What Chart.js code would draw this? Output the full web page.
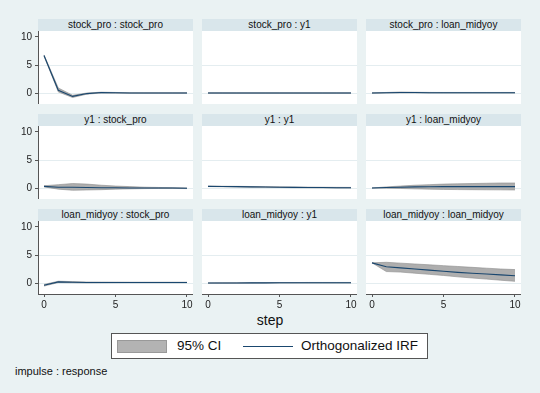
<!DOCTYPE html>
<html lang="en">
<head>
<meta charset="UTF-8">
<title>Orthogonalized IRF</title>
<script src="https://cdn.jsdelivr.net/npm/chart.js"></script>
<style>
    body { margin: 0; background: #eaf2f3; font-family: "Liberation Sans", Arial, sans-serif; }
    #fig { position: relative; width: 540px; height: 393px; overflow: hidden; background: #eaf2f3; }
    .cap {
        position: absolute; height: 12px; line-height: 12px; background: #d9e6eb;
        font-size: 10px; color: #111; text-align: center; white-space: nowrap;
    }
    .plot { position: absolute; }
    .white { position: absolute; background: #fff; }
    #step { position: absolute; left: 0; width: 540px; top: 312px; text-align: center; font-size: 14px; color: #111; }
    #legend {
        position: absolute; left: 111px; top: 333px; width: 315px; height: 24px;
        background: #fff; border: 1px solid #555;
    }
    #legend .sw { position: absolute; left: 5px; top: 6px; width: 50px; height: 13px; background: #b3b3b3; border: 1px solid #999; box-sizing: border-box; }
    #legend .ln { position: absolute; left: 131px; top: 12px; width: 50px; height: 1px; background: #1a476f; }
    #legend span { position: absolute; top: 4px; font-size: 13.5px; color: #111; }
    #note { position: absolute; left: 15px; top: 365px; font-size: 11px; color: #111; }
</style>
</head>
<body>
<div id="fig">
    <div id="step">step</div>
    <div id="legend">
        <div class="sw"></div><span style="left:65px">95% CI</span>
        <div class="ln"></div><span style="left:189px">Orthogonalized IRF</span>
    </div>
    <div id="note">impulse : response</div>
</div>

<script>
    // horizon and axis ticks
    const steps = [0, 1, 2, 3, 4, 5, 6, 7, 8, 9, 10];
    const xTicks = [0, 5, 10];
    const yTicks = [0, 5, 10];

    // impulse : response panels
    const irfSpSp = [6.7, 0.5, -0.6, -0.1, 0.1, 0.05, 0.0, 0.0, 0.0, 0.0, 0.0];
    const loSpSp  = [6.6, 0.2, -0.8, -0.2, 0.0, -0.02, -0.03, -0.03, -0.03, -0.03, -0.03];
    const hiSpSp  = [6.8, 0.9, -0.4, 0.0, 0.15, 0.1, 0.05, 0.04, 0.04, 0.04, 0.04];

    const irfSpY1 = [0.0, 0.0, 0.0, 0.0, 0.0, 0.0, 0.0, 0.0, 0.0, 0.0, 0.0];
    const loSpY1  = [-0.03, -0.04, -0.04, -0.04, -0.04, -0.04, -0.04, -0.04, -0.04, -0.04, -0.04];
    const hiSpY1  = [0.03, 0.04, 0.04, 0.04, 0.04, 0.04, 0.04, 0.04, 0.04, 0.04, 0.04];

    const irfSpLm = [0.0, 0.05, 0.1, 0.08, 0.06, 0.05, 0.05, 0.05, 0.05, 0.05, 0.05];
    const loSpLm  = [-0.03, 0.0, 0.02, 0.02, 0.01, 0.0, 0.0, 0.0, 0.0, 0.0, 0.0];
    const hiSpLm  = [0.03, 0.1, 0.18, 0.14, 0.11, 0.1, 0.1, 0.1, 0.1, 0.1, 0.1];

    const irfY1Sp = [0.3, 0.15, 0.15, 0.1, 0.05, 0.05, 0.0, 0.0, 0.0, 0.0, -0.05];
    const loY1Sp  = [0.2, -0.2, -0.4, -0.35, -0.3, -0.2, -0.15, -0.1, -0.08, -0.08, -0.1];
    const hiY1Sp  = [0.4, 0.6, 0.8, 0.7, 0.5, 0.35, 0.25, 0.15, 0.1, 0.06, 0.02];

    const irfY1Y1 = [0.3, 0.27, 0.24, 0.21, 0.18, 0.15, 0.12, 0.1, 0.08, 0.06, 0.05];
    const loY1Y1  = [0.26, 0.22, 0.18, 0.15, 0.12, 0.09, 0.06, 0.04, 0.02, 0.0, -0.01];
    const hiY1Y1  = [0.34, 0.32, 0.3, 0.27, 0.24, 0.21, 0.18, 0.16, 0.14, 0.12, 0.11];

    const irfY1Lm = [0.0, 0.1, 0.15, 0.2, 0.22, 0.24, 0.25, 0.25, 0.25, 0.25, 0.25];
    const loY1Lm  = [0.0, -0.02, -0.08, -0.15, -0.2, -0.25, -0.28, -0.3, -0.32, -0.33, -0.35];
    const hiY1Lm  = [0.0, 0.2, 0.35, 0.5, 0.6, 0.7, 0.75, 0.8, 0.85, 0.9, 0.9];

    const irfLmSp = [-0.4, 0.2, 0.15, 0.1, 0.1, 0.1, 0.1, 0.1, 0.1, 0.1, 0.1];
    const loLmSp  = [-0.55, 0.08, 0.05, 0.02, 0.03, 0.04, 0.05, 0.05, 0.05, 0.05, 0.05];
    const hiLmSp  = [-0.25, 0.32, 0.25, 0.18, 0.17, 0.16, 0.15, 0.15, 0.15, 0.15, 0.15];

    const irfLmY1 = [0.0, 0.0, 0.01, 0.02, 0.03, 0.04, 0.04, 0.05, 0.05, 0.05, 0.05];
    const loLmY1  = [-0.02, -0.03, -0.02, -0.01, 0.0, 0.0, 0.0, 0.0, 0.0, 0.0, 0.0];
    const hiLmY1  = [0.02, 0.03, 0.04, 0.05, 0.06, 0.08, 0.08, 0.1, 0.1, 0.1, 0.1];

    const irfLmLm = [3.6, 2.9, 2.7, 2.5, 2.3, 2.1, 1.9, 1.75, 1.6, 1.45, 1.3];
    const loLmLm  = [3.6, 2.05, 1.95, 1.75, 1.55, 1.35, 1.1, 0.9, 0.7, 0.5, 0.3];
    const hiLmLm  = [3.6, 3.7, 3.55, 3.4, 3.25, 3.1, 2.95, 2.8, 2.65, 2.5, 2.4];

    const panels = [
        ['stock_pro : stock_pro', irfSpSp, loSpSp, hiSpSp],
        ['stock_pro : y1', irfSpY1, loSpY1, hiSpY1],
        ['stock_pro : loan_midyoy', irfSpLm, loSpLm, hiSpLm],
        ['y1 : stock_pro', irfY1Sp, loY1Sp, hiY1Sp],
        ['y1 : y1', irfY1Y1, loY1Y1, hiY1Y1],
        ['y1 : loan_midyoy', irfY1Lm, loY1Lm, hiY1Lm],
        ['loan_midyoy : stock_pro', irfLmSp, loLmSp, hiLmSp],
        ['loan_midyoy : y1', irfLmY1, loLmY1, hiLmY1],
        ['loan_midyoy : loan_midyoy', irfLmLm, loLmLm, hiLmLm]
    ];

    const colX = [38, 202, 366];
    const rowY = [19, 114, 209];
    const PW = 155, CAP = 12, PH = 73;
    const fig = document.getElementById('fig');

    const pts = arr => steps.map((s, i) => ({ x: s, y: arr[i] }));

    // keep the plot area exactly where the panel is: no label overflow padding
    function noPad(s) {
        s.paddingTop = 0; s.paddingBottom = 0;
        s.paddingLeft = 0; s.paddingRight = 0;
    }

    panels.forEach((p, k) => {
        const col = k % 3, row = Math.floor(k / 3);
        const left = colX[col], top = rowY[row];

        const cap = document.createElement('div');
        cap.className = 'cap';
        cap.style.left = left + 'px';
        cap.style.top = top + 'px';
        cap.style.width = PW + 'px';
        cap.textContent = p[0];
        fig.appendChild(cap);

        const bg = document.createElement('div');
        bg.className = 'white';
        bg.style.left = left + 'px';
        bg.style.top = (top + CAP) + 'px';
        bg.style.width = PW + 'px';
        bg.style.height = PH + 'px';
        fig.appendChild(bg);

        const yw = col === 0 ? 20 : 0;
        const xh = row === 2 ? 18 : 0;
        const cv = document.createElement('canvas');
        cv.className = 'plot';
        cv.width = PW + yw;
        cv.height = PH + xh;
        cv.style.left = (left - yw) + 'px';
        cv.style.top = (top + CAP) + 'px';
        fig.appendChild(cv);

        new Chart(cv, {
            type: 'line',
            data: {
                datasets: [
                    // IRF first so it is drawn on top of the band
                    { data: pts(p[1]), borderColor: '#1a476f', borderWidth: 1.1, pointRadius: 0, fill: false },
                    { data: pts(p[2]), borderColor: '#8c8c8c', borderWidth: 0.6, pointRadius: 0, fill: false },
                    { data: pts(p[3]), borderColor: '#8c8c8c', borderWidth: 0.6, pointRadius: 0,
                      fill: '-1', backgroundColor: 'rgba(165,165,165,0.9)' }
                ]
            },
            options: {
                responsive: false,
                animation: false,
                events: [],
                layout: { padding: 0, autoPadding: false },
                plugins: { legend: { display: false }, tooltip: { enabled: false } },
                scales: {
                    x: {
                        type: 'linear', min: -0.42, max: 10.42,
                        display: row === 2,
                        afterBuildTicks: a => { a.ticks = xTicks.map(v => ({ value: v })); },
                        afterFit: s => { s.height = xh; noPad(s); },
                        ticks: { font: { size: 10, family: 'Liberation Sans' }, color: '#222', padding: 2, maxRotation: 0, autoSkip: false },
                        grid: { drawOnChartArea: false, tickLength: 3, tickColor: '#555' },
                        border: { color: '#555' }
                    },
                    y: {
                        type: 'linear', min: -1.96, max: 11.07,
                        afterBuildTicks: a => { a.ticks = yTicks.map(v => ({ value: v })); },
                        afterFit: s => { s.width = yw; noPad(s); },
                        ticks: { display: col === 0, font: { size: 10, family: 'Liberation Sans' }, color: '#222', padding: 3 },
                        grid: {
                            color: c => (c.tick && c.tick.value === 10) ? 'rgba(0,0,0,0)' : '#e4edf0',
                            drawTicks: col === 0, tickLength: 3, tickColor: '#555'
                        },
                        border: { display: col === 0, color: '#555' }
                    }
                }
            }
        });
    });
</script>
</body>
</html>
